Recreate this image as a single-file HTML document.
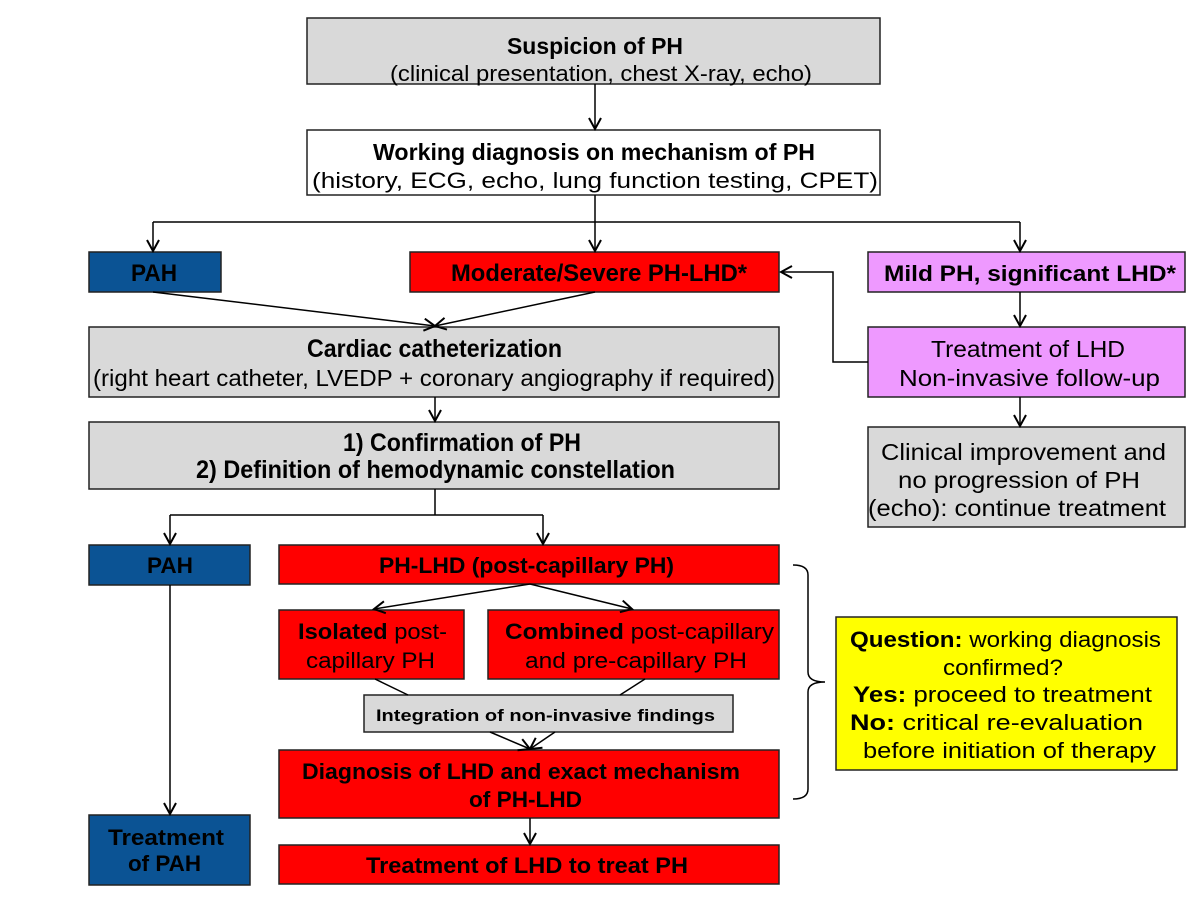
<!DOCTYPE html>
<html><head><meta charset="utf-8"><style>
body{margin:0;background:#fff}
svg{display:block}
text{font-family:"Liberation Sans",Arial,sans-serif;fill:#000}
.b{font-weight:bold}
</style></head><body>
<svg width="1200" height="900" viewBox="0 0 1200 900" xmlns="http://www.w3.org/2000/svg">
<defs><marker id="a" markerWidth="14" markerHeight="14" refX="12" refY="7" orient="auto" markerUnits="userSpaceOnUse"><path d="M1,1 L12,7 L1,13" fill="none" stroke="#000" stroke-width="2"/></marker></defs>
<g stroke="#222" stroke-width="1.5">
<rect x="307" y="18" width="573" height="66" fill="#d9d9d9"/>
<rect x="307" y="130" width="573" height="65" fill="#fff"/>
<rect x="89" y="252" width="132" height="40" fill="#0b5394"/>
<rect x="410" y="252" width="369" height="40" fill="#ff0000"/>
<rect x="868" y="252" width="317" height="40" fill="#ee99ff"/>
<rect x="89" y="327" width="690" height="70" fill="#d9d9d9"/>
<rect x="868" y="327" width="317" height="70" fill="#ee99ff"/>
<rect x="89" y="422" width="690" height="67" fill="#d9d9d9"/>
<rect x="868" y="427" width="317" height="100" fill="#d9d9d9"/>
<rect x="89" y="545" width="161" height="40" fill="#0b5394"/>
<rect x="279" y="545" width="500" height="39" fill="#ff0000"/>
<rect x="279" y="610" width="185" height="69" fill="#ff0000"/>
<rect x="488" y="610" width="291" height="69" fill="#ff0000"/>
<rect x="364" y="695" width="369" height="37" fill="#d9d9d9"/>
<rect x="279" y="750" width="500" height="68" fill="#ff0000"/>
<rect x="279" y="845" width="500" height="39" fill="#ff0000"/>
<rect x="89" y="815" width="161" height="70" fill="#0b5394"/>
<rect x="836" y="617" width="341" height="153" fill="#ffff00"/>
</g>
<g stroke="#000" stroke-width="1.5" fill="none">
<line x1="595" y1="84" x2="595" y2="129" marker-end="url(#a)"/>
<polyline points="595,195 595,222"/>
<polyline points="153,222 1020,222"/>
<line x1="153" y1="222" x2="153" y2="251" marker-end="url(#a)"/>
<line x1="595" y1="222" x2="595" y2="251" marker-end="url(#a)"/>
<line x1="1020" y1="222" x2="1020" y2="251" marker-end="url(#a)"/>
<polyline points="868,362 833,362 833,272 781,272" marker-end="url(#a)"/>
<line x1="153" y1="292" x2="435" y2="326" marker-end="url(#a)"/>
<line x1="595" y1="292" x2="435" y2="326" marker-end="url(#a)"/>
<line x1="435" y1="397" x2="435" y2="421" marker-end="url(#a)"/>
<line x1="1020" y1="292" x2="1020" y2="326" marker-end="url(#a)"/>
<line x1="1020" y1="397" x2="1020" y2="426" marker-end="url(#a)"/>
<polyline points="435,489 435,515"/>
<polyline points="170,515 543,515"/>
<line x1="170" y1="515" x2="170" y2="544" marker-end="url(#a)"/>
<line x1="543" y1="515" x2="543" y2="544" marker-end="url(#a)"/>
<line x1="530" y1="584" x2="374" y2="609" marker-end="url(#a)"/>
<line x1="530" y1="584" x2="632" y2="609" marker-end="url(#a)"/>
<line x1="375" y1="679" x2="408" y2="695"/>
<line x1="645" y1="679" x2="620" y2="695"/>
<line x1="490" y1="732" x2="530" y2="749" marker-end="url(#a)"/>
<line x1="555" y1="732" x2="530" y2="749" marker-end="url(#a)"/>
<line x1="530" y1="818" x2="530" y2="844" marker-end="url(#a)"/>
<line x1="170" y1="585" x2="170" y2="814" marker-end="url(#a)"/>
<path d="M793,565 Q808,565 808,575 L808,672 Q808,682 825,682 Q808,682 808,692 L808,789 Q808,799 793,799"/>
</g>
<g lengthAdjust="spacingAndGlyphs">
<text class="b" x="507" y="54" font-size="23" textLength="176" lengthAdjust="spacingAndGlyphs">Suspicion of PH</text>
<text x="390" y="81" font-size="22" textLength="422" lengthAdjust="spacingAndGlyphs">(clinical presentation, chest X-ray, echo)</text>
<text class="b" x="373" y="160" font-size="23" textLength="442" lengthAdjust="spacingAndGlyphs">Working diagnosis on mechanism of PH</text>
<text x="312" y="188" font-size="22" textLength="566" lengthAdjust="spacingAndGlyphs">(history, ECG, echo, lung function testing, CPET)</text>
<text class="b" x="131" y="281" font-size="24" textLength="46" lengthAdjust="spacingAndGlyphs">PAH</text>
<text class="b" x="451" y="281" font-size="24" textLength="296" lengthAdjust="spacingAndGlyphs">Moderate/Severe PH-LHD*</text>
<text class="b" x="884" y="281" font-size="22" textLength="292" lengthAdjust="spacingAndGlyphs">Mild PH, significant LHD*</text>
<text class="b" x="307" y="357" font-size="25" textLength="255" lengthAdjust="spacingAndGlyphs">Cardiac catheterization</text>
<text x="93" y="386" font-size="23" textLength="682" lengthAdjust="spacingAndGlyphs">(right heart catheter, LVEDP + coronary angiography if required)</text>
<text x="931" y="357" font-size="23" textLength="194" lengthAdjust="spacingAndGlyphs">Treatment of LHD</text>
<text x="899" y="386" font-size="23" textLength="261" lengthAdjust="spacingAndGlyphs">Non-invasive follow-up</text>
<text class="b" x="343" y="451" font-size="25" textLength="238" lengthAdjust="spacingAndGlyphs">1) Confirmation of PH</text>
<text class="b" x="196" y="478" font-size="25" textLength="479" lengthAdjust="spacingAndGlyphs">2) Definition of hemodynamic constellation</text>
<text x="881" y="460" font-size="23" textLength="285" lengthAdjust="spacingAndGlyphs">Clinical improvement and</text>
<text x="898" y="488" font-size="23" textLength="242" lengthAdjust="spacingAndGlyphs">no progression of PH</text>
<text x="868" y="516" font-size="23" textLength="298" lengthAdjust="spacingAndGlyphs">(echo): continue treatment</text>
<text class="b" x="147" y="573" font-size="22" textLength="46" lengthAdjust="spacingAndGlyphs">PAH</text>
<text class="b" x="379" y="573" font-size="22" textLength="295" lengthAdjust="spacingAndGlyphs">PH-LHD (post-capillary PH)</text>
<text x="298" y="639" font-size="22" textLength="149" lengthAdjust="spacingAndGlyphs"><tspan font-weight="bold">Isolated</tspan> post-</text>
<text x="306" y="668" font-size="22" textLength="129" lengthAdjust="spacingAndGlyphs">capillary PH</text>
<text x="505" y="639" font-size="22" textLength="269" lengthAdjust="spacingAndGlyphs"><tspan font-weight="bold">Combined</tspan> post-capillary</text>
<text x="525" y="668" font-size="22" textLength="222" lengthAdjust="spacingAndGlyphs">and pre-capillary PH</text>
<text class="b" x="376" y="721" font-size="17" textLength="339" lengthAdjust="spacingAndGlyphs">Integration of non-invasive findings</text>
<text class="b" x="302" y="779" font-size="22" textLength="438" lengthAdjust="spacingAndGlyphs">Diagnosis of LHD and exact mechanism</text>
<text class="b" x="469" y="807" font-size="22" textLength="113" lengthAdjust="spacingAndGlyphs">of PH-LHD</text>
<text class="b" x="366" y="873" font-size="22" textLength="322" lengthAdjust="spacingAndGlyphs">Treatment of LHD to treat PH</text>
<text class="b" x="108" y="845" font-size="22" textLength="116" lengthAdjust="spacingAndGlyphs">Treatment</text>
<text class="b" x="128" y="871" font-size="22" textLength="73" lengthAdjust="spacingAndGlyphs">of PAH</text>
<text x="850" y="647" font-size="22" textLength="311" lengthAdjust="spacingAndGlyphs"><tspan font-weight="bold">Question:</tspan> working diagnosis</text>
<text x="943" y="675" font-size="22" textLength="120" lengthAdjust="spacingAndGlyphs">confirmed?</text>
<text x="853" y="702" font-size="22" textLength="299" lengthAdjust="spacingAndGlyphs"><tspan font-weight="bold">Yes:</tspan> proceed to treatment</text>
<text x="850" y="730" font-size="22" textLength="293" lengthAdjust="spacingAndGlyphs"><tspan font-weight="bold">No:</tspan> critical re-evaluation</text>
<text x="863" y="758" font-size="22" textLength="293" lengthAdjust="spacingAndGlyphs">before initiation of therapy</text>
</g>
</svg>
</body></html>
